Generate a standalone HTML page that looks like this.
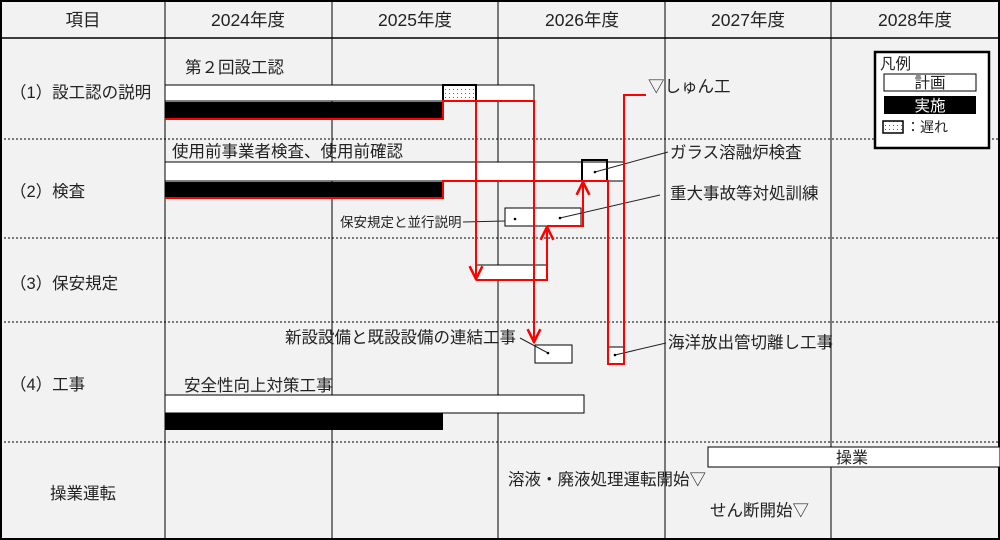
<!DOCTYPE html>
<html><head><meta charset="utf-8"><style>
html,body{margin:0;padding:0;background:#fff}
svg{display:block;font-family:"Liberation Sans","Noto Sans CJK JP",sans-serif}
</style></head><body>
<svg width="1000" height="540" viewBox="0 0 1000 540" xmlns="http://www.w3.org/2000/svg">
<defs>
<pattern id="dots" width="4" height="4" patternUnits="userSpaceOnUse"><rect width="4" height="4" fill="#fff"/><rect x="1" y="1" width="1" height="1" fill="#666"/></pattern>
<marker id="ar" viewBox="0 0 10 10" refX="9" refY="5" markerWidth="8" markerHeight="8" orient="auto-start-reverse"><path d="M1,1 L9,5 L1,9" fill="none" stroke="red" stroke-width="1.6"/></marker>
</defs>
<rect x="0" y="0" width="1000" height="540" fill="#f2f2f2"/>
<rect x="1" y="1" width="998" height="538" fill="none" stroke="#000" stroke-width="2"/>
<line x1="0" y1="38" x2="1000" y2="38" stroke="#000" stroke-width="1.5"/>
<g stroke="#000" stroke-width="1">
<line x1="165" y1="0" x2="165" y2="540"/><line x1="332" y1="0" x2="332" y2="540"/><line x1="498" y1="0" x2="498" y2="540"/><line x1="665" y1="0" x2="665" y2="540"/><line x1="831" y1="0" x2="831" y2="540"/>
</g>
<g stroke="#000" stroke-width="1" stroke-dasharray="2,2">
<line x1="0" y1="139" x2="1000" y2="139"/><line x1="0" y1="238" x2="1000" y2="238"/><line x1="0" y1="322" x2="1000" y2="322"/><line x1="0" y1="442" x2="1000" y2="442"/>
</g>
<g font-size="17.5" fill="#222" text-anchor="middle">
<text x="83" y="26">項目</text><text x="248" y="26">2024年度</text><text x="415" y="26">2025年度</text><text x="582" y="26">2026年度</text><text x="748" y="26">2027年度</text><text x="915" y="26">2028年度</text>
</g>
<g font-size="16.5" fill="#222">
<text x="10" y="98">（1）設工認の説明</text>
<text x="10" y="197">（2）検査</text>
<text x="10" y="289">（3）保安規定</text>
<text x="10" y="390">（4）工事</text>
<text x="50" y="499">操業運転</text>
<text x="185" y="73">第２回設工認</text>
<text x="172" y="157">使用前事業者検査、使用前確認</text>
<text x="648" y="92">▽しゅん工</text>
<text x="670" y="158">ガラス溶融炉検査</text>
<text x="670" y="199">重大事故等対処訓練</text>
<text x="285" y="343">新設設備と既設設備の連結工事</text>
<text x="668" y="348">海洋放出管切離し工事</text>
<text x="184" y="391">安全性向上対策工事</text>
<text x="508" y="485">溶液・廃液処理運転開始▽</text>
<text x="710" y="516">せん断開始▽</text>
</g>
<text x="340" y="227" font-size="13.5" fill="#222">保安規定と並行説明</text>
<g stroke="#000" stroke-width="1" fill="#fff">
<rect x="165" y="85" width="369" height="16"/>
<rect x="443" y="85" width="33" height="16" fill="url(#dots)" stroke-width="2"/>
<rect x="165" y="162" width="459" height="19"/>
<rect x="505" y="208" width="76" height="18"/>
<rect x="476" y="265" width="71" height="15"/>
<rect x="535" y="345" width="37" height="18"/>
<rect x="608" y="347" width="16" height="17"/>
<rect x="165" y="395" width="419" height="18"/>
<rect x="708" y="447" width="292" height="20"/>
</g>
<path d="M582,181 V160 H607 V181" fill="none" stroke="#000" stroke-width="2"/>
<rect x="165" y="102" width="278" height="17" fill="#000"/>
<rect x="165" y="182" width="278" height="16" fill="#000"/>
<rect x="165" y="413" width="278" height="17" fill="#000"/>
<text x="852" y="463" font-size="16" fill="#222" text-anchor="middle">操業</text>
<g stroke="#222" stroke-width="1">
<line x1="463" y1="222" x2="505" y2="221"/>
<line x1="560" y1="218" x2="660" y2="195"/>
<line x1="595" y1="172" x2="668" y2="152"/>
<line x1="520" y1="338" x2="548" y2="353"/>
<line x1="615" y1="355" x2="666" y2="343"/>
</g>
<g fill="#000"><circle cx="515" cy="219" r="1.3"/><circle cx="560" cy="218" r="1.3"/><circle cx="595" cy="172" r="1.3"/><circle cx="548" cy="353" r="1.3"/><circle cx="615" cy="355" r="1.3"/></g>
<g fill="none" stroke="red" stroke-width="2">
<path d="M165,119 H443 V101 H534 V342" marker-end="url(#ar)"/>
<path d="M476,101 V279" marker-end="url(#ar)"/>
<path d="M476,280 H547 V227" marker-end="url(#ar)"/>
<path d="M547,226 H583 V182" marker-end="url(#ar)"/>
<path d="M165,198 H443 V181 H608 V364 H624 V95 H646"/>
</g>
<rect x="875" y="52" width="114" height="96" fill="#fff" stroke="#000" stroke-width="2.5"/>
<text x="880" y="69" font-size="15.5" fill="#222">凡例</text>
<rect x="884" y="74" width="92" height="17" fill="#fff" stroke="#000"/>
<text x="930" y="88" font-size="15.5" fill="#222" text-anchor="middle">計画</text>
<rect x="884" y="96" width="92" height="18" fill="#000"/>
<text x="930" y="111" font-size="15.5" fill="#fff" text-anchor="middle">実施</text>
<rect x="883" y="121" width="20" height="12" fill="url(#dots)" stroke="#000" stroke-width="1.5"/>
<text x="906" y="132" font-size="14" fill="#222">：遅れ</text>
</svg>
</body></html>
